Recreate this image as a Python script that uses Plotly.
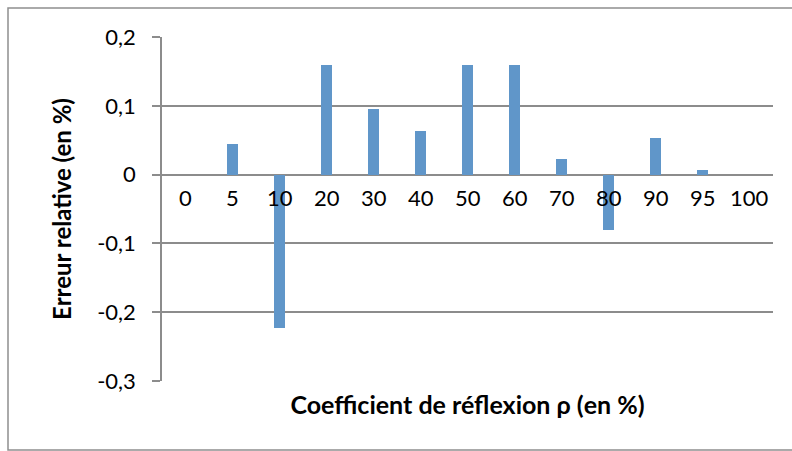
import plotly.graph_objects as go

# Reflection coefficient categories (in %) and relative error (in %)
categories = ["0", "5", "10", "20", "30", "40", "50", "60", "70", "80", "90", "95", "100"]
relative_error = [0.0, 0.044, -0.223, 0.159, 0.095, 0.063, 0.159, 0.159, 0.022, -0.081, 0.053, 0.007, 0.0]
y_ticks = [0.2, 0.1, 0.0, -0.1, -0.2, -0.3]
y_tick_labels = ["0,2", "0,1", "0", "-0,1", "-0,2", "-0,3"]

FONT = "Lato"
GRID = "#8c8c8c"

W, H = 792, 451
L, R, T, B = 162, 19, 37, 70
pw, ph = W - L - R, H - T - B

fig = go.Figure()
fig.add_trace(go.Bar(
    x=categories,
    y=relative_error,
    width=0.25,
    marker=dict(color="#6096C9", line=dict(width=0)),
    showlegend=False,
))

# Category labels sit next to the zero line, as in a spreadsheet chart
for i, c in enumerate(categories):
    fig.add_annotation(
        x=i, y=0, xref="x", yref="y", text=c, showarrow=False,
        yanchor="middle", yshift=-23,
        font=dict(family=FONT, size=22, color="#000000"),
    )

# Outer chart border
fig.add_shape(
    type="rect", xref="paper", yref="paper",
    x0=(8 - L) / pw, x1=(800 - L) / pw,
    y0=(H - B - 450) / ph, y1=(H - B - 8) / ph,
    line=dict(color="#8f8f8f", width=1.5), fillcolor="rgba(0,0,0,0)", layer="below",
)

fig.update_layout(
    width=W, height=H,
    margin=dict(l=L, r=R, t=T, b=B),
    paper_bgcolor="white", plot_bgcolor="white",
    font=dict(family=FONT, size=22, color="#000000"),
    bargap=0.0,
)
fig.update_xaxes(
    type="category", range=[-0.5, len(categories) - 0.5],
    showticklabels=False, showgrid=False, showline=False, ticks="",
    title=dict(text="<b>Coefficient de réflexion ρ (en %)</b>", font=dict(family=FONT, size=25), standoff=15),
)
fig.update_yaxes(
    range=[-0.3, 0.2], tickvals=y_ticks, ticktext=y_tick_labels,
    showgrid=True, gridcolor=GRID, gridwidth=1.5,
    zeroline=True, zerolinecolor=GRID, zerolinewidth=1.5,
    showline=True, linecolor=GRID, linewidth=1.5,
    ticks="outside", ticklen=8, tickcolor=GRID, tickwidth=1.5,
    ticklabelstandoff=12,
    tickfont=dict(family=FONT, size=22),
    title=dict(text="<b>Erreur relative (en %)</b>", font=dict(family=FONT, size=24), standoff=19),
)

fig.write_html("out.html")
